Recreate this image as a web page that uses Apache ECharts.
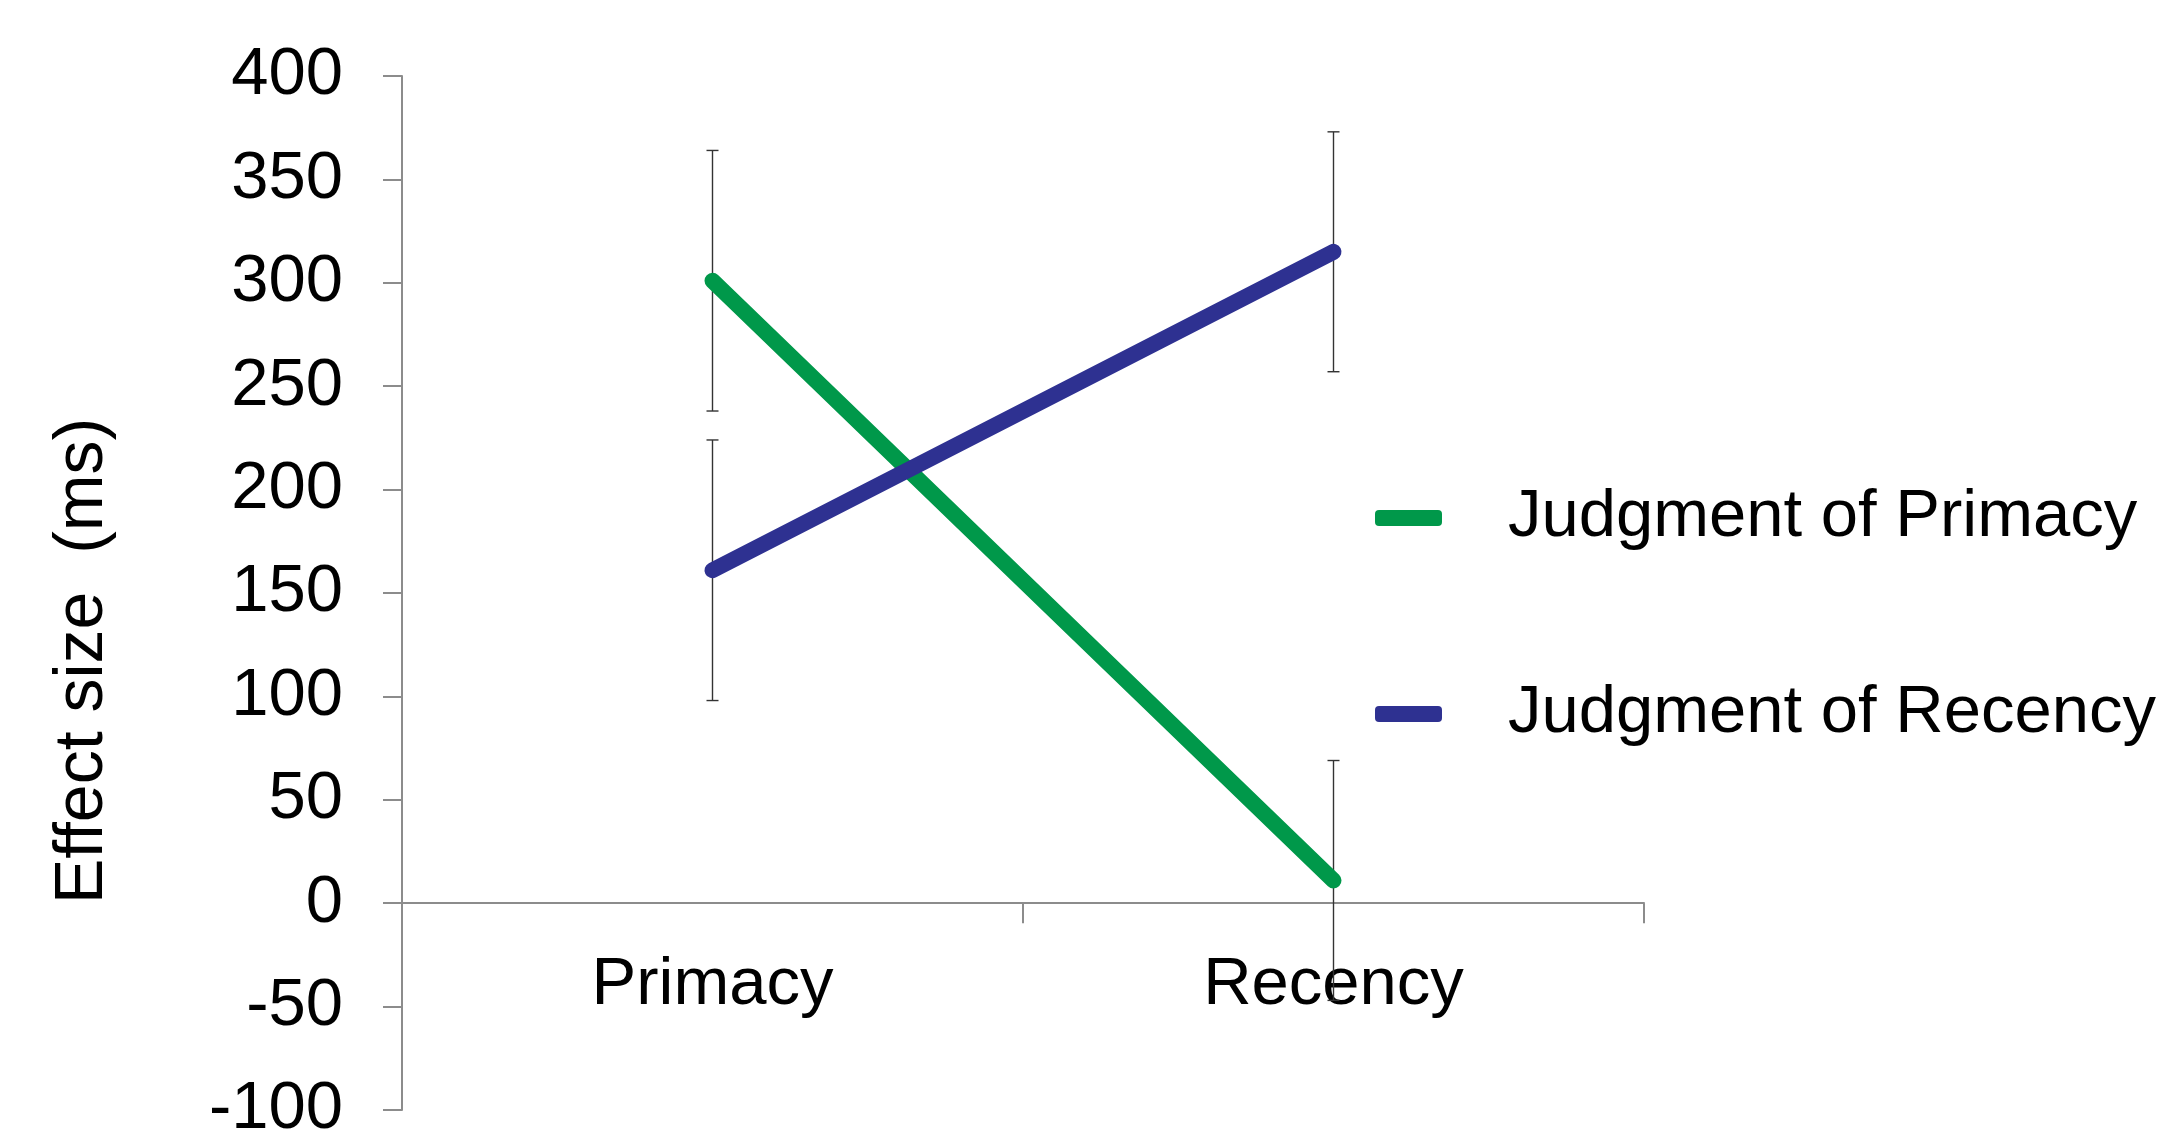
<!DOCTYPE html>
<html>
<head>
<meta charset="utf-8">
<script src="https://cdn.jsdelivr.net/npm/echarts@6/dist/echarts.min.js"></script>
<style>
html,body{margin:0;padding:0;background:#fff;}
#c{width:2158px;height:1132px;}
</style>
</head>
<body>
<div id="c"></div>
<script>
const categories = ['Primacy', 'Recency'];
const seriesNames = ['Judgment of Primacy', 'Judgment of Recency'];
const primacyJudgment = [301, 11];
const recencyJudgment = [161, 315];
const primacyErr = [63, 58];
const recencyErr = [63, 58];
const yTicks = [-100, 400, 50];

const FONT = 'Liberation Sans';
const errData = [];
categories.forEach((c, i) => {
  errData.push([i, primacyJudgment[i] - primacyErr[i], primacyJudgment[i] + primacyErr[i]]);
  errData.push([i, recencyJudgment[i] - recencyErr[i], recencyJudgment[i] + recencyErr[i]]);
});

const chart = echarts.init(document.getElementById('c'));
chart.setOption({
  animation: false,
  backgroundColor: '#fff',
  grid: { left: 402, right: 514, top: 76, bottom: 22, containLabel: false, outerBoundsMode: 'none' },
  graphic: [{
    type: 'text',
    x: 83, y: 661,
    rotation: Math.PI / 2,
    style: {
      text: 'Effect size  (ms)',
      font: '68px "' + FONT + '"',
      fill: '#000',
      align: 'center',
      verticalAlign: 'middle'
    }
  }],
  legend: {
    orient: 'vertical',
    left: 1370,
    top: 478,
    itemWidth: 67,
    itemHeight: 16,
    itemGap: 126,
    icon: 'roundRect',
    data: seriesNames,
    textStyle: { fontFamily: FONT, fontSize: 67, color: '#000', lineHeight: 70, padding: [0, 0, 0, 61] }
  },
  xAxis: {
    type: 'category',
    data: categories,
    boundaryGap: true,
    axisLine: { onZero: true, lineStyle: { color: '#8c8c8c', width: 2 } },
    axisTick: { show: true, length: 20, lineStyle: { color: '#8c8c8c', width: 2 } },
    axisLabel: { fontFamily: FONT, fontSize: 67, color: '#000', margin: -158 }
  },
  yAxis: {
    type: 'value',
    min: yTicks[0], max: yTicks[1], interval: yTicks[2],
    splitLine: { show: false },
    axisLine: { show: true, onZero: false, lineStyle: { color: '#8c8c8c', width: 2 } },
    axisTick: { show: true, length: 19, lineStyle: { color: '#8c8c8c', width: 2 } },
    axisLabel: { fontFamily: FONT, fontSize: 67, color: '#000', margin: 59 }
  },
  series: [
    {
      type: 'custom', name: 'err', data: errData, z: 1,
      renderItem: function (params, api) {
        const x = api.coord([api.value(0), api.value(1)])[0];
        const lo = api.coord([api.value(0), api.value(1)])[1];
        const hi = api.coord([api.value(0), api.value(2)])[1];
        const w = 6;
        const st = { stroke: '#333', lineWidth: 1.4 };
        return {
          type: 'group',
          children: [
            { type: 'line', shape: { x1: x, y1: lo, x2: x, y2: hi }, style: st },
            { type: 'line', shape: { x1: x - w, y1: lo, x2: x + w, y2: lo }, style: st },
            { type: 'line', shape: { x1: x - w, y1: hi, x2: x + w, y2: hi }, style: st }
          ]
        };
      }
    },
    {
      name: seriesNames[0], type: 'line', data: primacyJudgment,
      showSymbol: false, symbol: 'none',
      itemStyle: { color: '#00984a' },
      lineStyle: { color: '#00984a', width: 16, cap: 'round' }, z: 3
    },
    {
      name: seriesNames[1], type: 'line', data: recencyJudgment,
      showSymbol: false, symbol: 'none',
      itemStyle: { color: '#2e3191' },
      lineStyle: { color: '#2e3191', width: 16, cap: 'round' }, z: 3
    }
  ]
});
</script>
</body>
</html>
